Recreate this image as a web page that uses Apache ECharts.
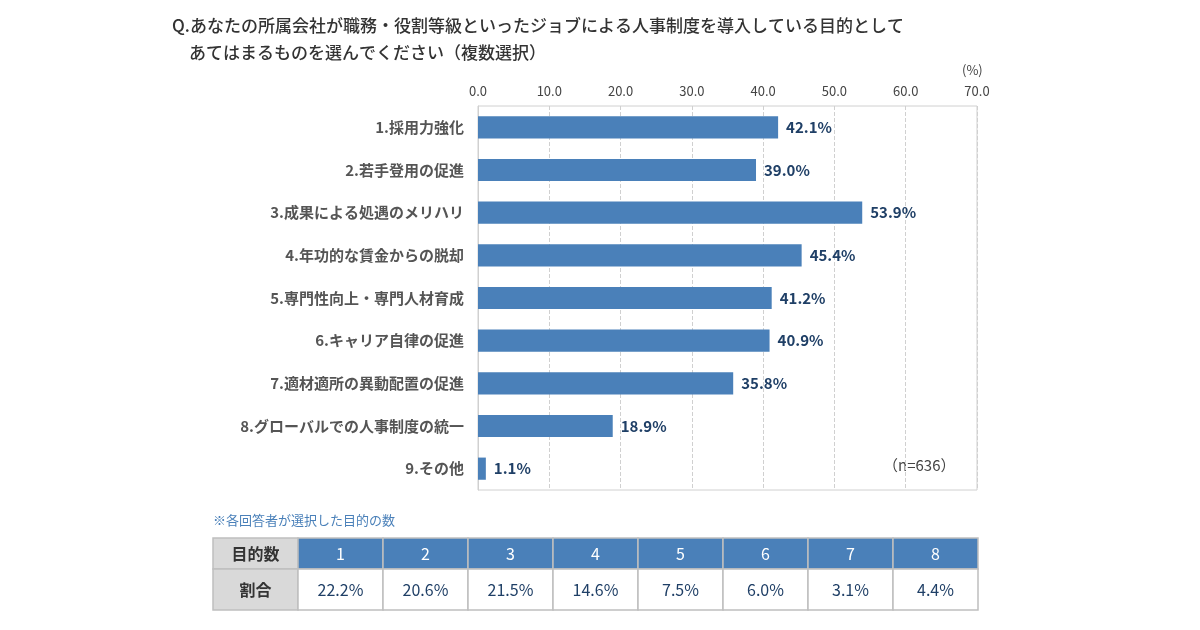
<!DOCTYPE html>
<html><head><meta charset="utf-8">
<script src="https://cdn.jsdelivr.net/npm/echarts@6/dist/echarts.min.js"></script>
<style>html,body{margin:0;background:#fff}#c{width:1200px;height:630px}</style>
</head><body><div id="c"></div>
<script>
var categories = ['1.採用力強化', '2.若手登用の促進', '3.成果による処遇のメリハリ', '4.年功的な賃金からの脱却', '5.専門性向上・専門人材育成', '6.キャリア自律の促進', '7.適材適所の異動配置の促進', '8.グローバルでの人事制度の統一', '9.その他'];
var values = [42.1, 39.0, 53.9, 45.4, 41.2, 40.9, 35.8, 18.9, 1.1];
var tableHead = ['目的数', '1', '2', '3', '4', '5', '6', '7', '8'];
var tableRow = ['割合', '22.2%', '20.6%', '21.5%', '14.6%', '7.5%', '6.0%', '3.1%', '4.4%'];

var font = '"Noto Sans CJK JP", sans-serif';
var chart = echarts.init(document.getElementById('c'));

// table drawn as graphic cells
var graphics = [
    {type: 'text', left: 172, top: 12, style: {text: 'Q.あなたの所属会社が職務・役割等級といったジョブによる人事制度を導入している目的として\n　あてはまるものを選んでください（複数選択）', font: '500 17px ' + font, fill: '#333', lineHeight: 27}},
    {type: 'text', left: 213, top: 514, style: {text: '※各回答者が選択した目的の数', font: '13px ' + font, fill: '#4a80b9'}},
    {type: 'text', left: 883, top: 458, style: {text: '（n=636）', font: '15px ' + font, fill: '#444'}},
    {type: 'text', left: 962, top: 64, style: {text: '(%)', font: '13px ' + font, fill: '#444'}}
];
var x0 = 213, cw = 85, y0 = 538, h1 = 31, h2 = 41;
for (var i = 0; i < tableHead.length; i++) {
    var head = i === 0;
    graphics.push({type: 'rect', shape: {x: x0 + i * cw, y: y0, width: cw, height: h1},
        style: {fill: head ? '#d9d9d9' : '#4a80b9', stroke: '#bfbfbf', lineWidth: 1.5}});
    graphics.push({type: 'rect', shape: {x: x0 + i * cw, y: y0 + h1, width: cw, height: h2},
        style: {fill: head ? '#d9d9d9' : '#fff', stroke: '#bfbfbf', lineWidth: 1.5}});
    graphics.push({type: 'text', x: x0 + i * cw + cw / 2, y: y0 + h1 / 2,
        style: {text: tableHead[i], align: 'center', verticalAlign: 'middle', font: (head ? 'bold ' : '') + '16px ' + font, fill: head ? '#333' : '#fff'}});
    graphics.push({type: 'text', x: x0 + i * cw + cw / 2, y: y0 + h1 + h2 / 2,
        style: {text: tableRow[i], align: 'center', verticalAlign: 'middle', font: (head ? 'bold ' : '') + '16px ' + font, fill: head ? '#333' : '#1f3f66'}});
}

chart.setOption({
    textStyle: {fontFamily: font},
    grid: {left: 478, right: 223, top: 106, bottom: 140, show: true, borderColor: '#d0d0d0', borderWidth: 1},
    xAxis: {
        type: 'value', position: 'top', min: 0, max: 70, interval: 10,
        axisLabel: {color: '#444', fontSize: 13, formatter: function (v) { return v.toFixed(1); }},
        axisLine: {show: false}, axisTick: {show: false},
        splitLine: {lineStyle: {color: '#d0d0d0', type: 'dashed'}}
    },
    yAxis: {
        type: 'category', inverse: true, data: categories,
        axisLabel: {color: '#555', fontSize: 15, fontWeight: 'bold', margin: 14},
        axisLine: {lineStyle: {color: '#d0d0d0'}}, axisTick: {show: false}
    },
    series: [{
        type: 'bar', data: values, barWidth: '52%',
        itemStyle: {color: '#4a80b9'},
        label: {show: true, position: 'right', distance: 8, color: '#1f3f66', fontSize: 15, fontWeight: 'bold',
            formatter: function (p) { return p.value.toFixed(1) + '%'; }}
    }],
    graphic: graphics
});
</script></body></html>
